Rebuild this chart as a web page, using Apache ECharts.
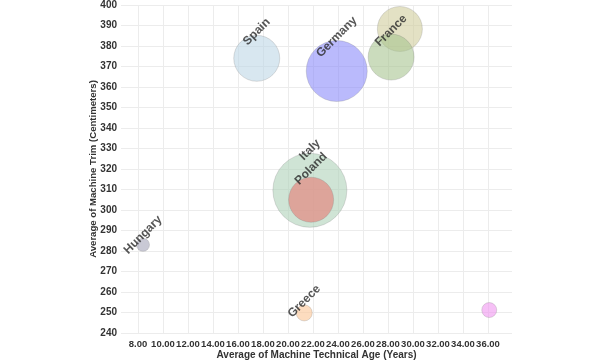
<!DOCTYPE html>
<html>
<head>
<meta charset="utf-8">
<script src="https://cdn.jsdelivr.net/npm/echarts@6/dist/echarts.min.js"></script>
<style>
html,body{margin:0;padding:0;background:#fff;}
#chart{width:600px;height:363px;}
</style>
</head>
<body>
<div id="chart"></div>
<script>
// Data
var countries = ['Spain', 'Germany', '', 'France', 'Italy', 'Poland', 'Hungary', 'Greece', ''];
var techAge   = [17.5, 23.9, 28.95, 28.25, 21.75, 21.85, 8.4, 21.3, 36.1];
var trim      = [374.0, 367.8, 388.3, 374.6, 309.6, 305.0, 283.0, 249.8, 251.2];
var weight    = [38.6, 68.0, 37.0, 38.6, 100.0, 37.0, 3.1, 4.7, 4.1];
var colors    = ['rgba(190,215,230,0.75)', 'rgba(140,140,250,0.75)', 'rgba(205,202,150,0.7)', 'rgba(165,195,140,0.72)',
                 'rgba(175,210,185,0.75)', 'rgba(228,135,128,0.85)', 'rgba(165,165,185,0.75)', 'rgba(252,200,155,0.8)', 'rgba(240,150,240,0.75)'];
var xTicks    = [8, 10, 12, 14, 16, 18, 20, 22, 24, 26, 28, 30, 32, 34, 36];

var data = countries.map(function (c, i) {
  return {
    name: c,
    value: [techAge[i], trim[i], weight[i]],
    itemStyle: { color: colors[i] },
    label: { show: c !== '', distance: c === 'Poland' ? 8 : 3 }
  };
});

var chart = echarts.init(document.getElementById('chart'));
var font = '"Liberation Sans", Arial, sans-serif';
chart.setOption({
  animation: false,
  grid: { left: 121, right: 88, top: 5, bottom: 30, containLabel: false, outerBoundsMode: 'none' },
  xAxis: {
    type: 'value',
    min: 6.64,
    max: 37.92,
    name: 'Average of Machine Technical Age (Years)',
    nameLocation: 'middle',
    nameGap: 17,
    nameMoveOverlap: false,
    nameTextStyle: { fontFamily: font, fontSize: 10, fontWeight: 'bold', color: '#333' },
    axisLine: { show: false },
    axisTick: { show: false, customValues: xTicks },
    axisLabel: {
      customValues: xTicks,
      interval: 0,
      hideOverlap: false,
      fontFamily: font, fontSize: 9.5, fontWeight: 'bold', color: '#333', margin: 6,
      formatter: function (v) { return v.toFixed(2); }
    },
    splitLine: { show: true, lineStyle: { color: '#ececec', width: 1 } }
  },
  yAxis: {
    type: 'value',
    min: 240,
    max: 400,
    interval: 10,
    name: 'Average of Machine Trim (Centimeters)',
    nameLocation: 'middle',
    nameGap: 23,
    nameMoveOverlap: false,
    nameTextStyle: { fontFamily: font, fontSize: 9.6, fontWeight: 'bold', color: '#333' },
    axisLine: { show: false },
    axisTick: { show: false },
    axisLabel: { fontFamily: font, fontSize: 10, fontWeight: 'bold', color: '#333', margin: 4 },
    splitLine: { show: true, lineStyle: { color: '#ececec', width: 1 } }
  },
  series: [{
    type: 'scatter',
    data: data,
    symbolSize: function (v) { return 74 * Math.sqrt(v[2] / 100); },
    itemStyle: { borderColor: 'rgba(120,120,120,0.3)', borderWidth: 1 },
    label: {
      position: 'top',
      align: 'center',
      verticalAlign: 'middle',
      rotate: 45,
      formatter: '{b}',
      fontFamily: font, fontSize: 12, fontWeight: 'bold', color: '#2a2a2a'
    }
  }]
});
</script>
</body>
</html>
